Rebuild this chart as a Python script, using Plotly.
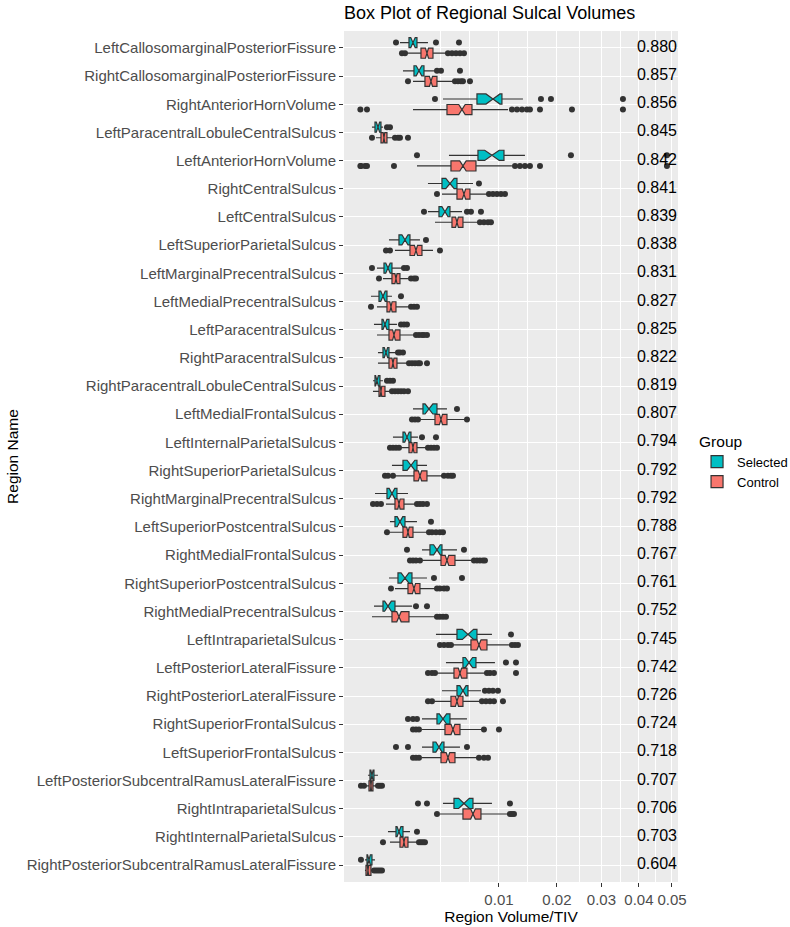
import numpy as np
import plotly.graph_objects as go

regions = [
    "LeftCallosomarginalPosteriorFissure", "RightCallosomarginalPosteriorFissure",
    "RightAnteriorHornVolume", "LeftParacentralLobuleCentralSulcus",
    "LeftAnteriorHornVolume", "RightCentralSulcus", "LeftCentralSulcus",
    "LeftSuperiorParietalSulcus", "LeftMarginalPrecentralSulcus",
    "LeftMedialPrecentralSulcus", "LeftParacentralSulcus", "RightParacentralSulcus",
    "RightParacentralLobuleCentralSulcus", "LeftMedialFrontalSulcus",
    "LeftInternalParietalSulcus", "RightSuperiorParietalSulcus",
    "RightMarginalPrecentralSulcus", "LeftSuperiorPostcentralSulcus",
    "RightMedialFrontalSulcus", "RightSuperiorPostcentralSulcus",
    "RightMedialPrecentralSulcus", "LeftIntraparietalSulcus",
    "LeftPosteriorLateralFissure", "RightPosteriorLateralFissure",
    "RightSuperiorFrontalSulcus", "LeftSuperiorFrontalSulcus",
    "LeftPosteriorSubcentralRamusLateralFissure", "RightIntraparietalSulcus",
    "RightInternalParietalSulcus", "RightPosteriorSubcentralRamusLateralFissure",
]

correlations = [0.880, 0.857, 0.856, 0.845, 0.842, 0.841, 0.839, 0.838, 0.831, 0.827,
                0.825, 0.822, 0.819, 0.807, 0.794, 0.792, 0.792, 0.788, 0.767, 0.761,
                0.752, 0.745, 0.742, 0.726, 0.724, 0.718, 0.707, 0.706, 0.703, 0.604]

# Selected group: lower whisker, Q1, median, Q3, upper whisker
sel_low = [.000858, .000988, .0036, .0000862, .004133, .002429, .002429, .0004592, .0001653, .0000735,
           .0001148, .0001842, .0001, .001488, .0005898, .0005556, .0001306, .0004903, .002025, .0004592,
           .0001148, .003025, .003862, .003515, .002025, .002025, .0000413, .0036, .0004291, .0000184]
sel_q1 = [.001276, .001543, .007104, .0001306, .007225, .003515, .003265, .0008163, .0003189, .0002041,
          .0002699, .0002939, .0001306, .00209, .000988, .000988, .0004, .0006612, .002572, .000776,
          .0002939, .0049, .005518, .0049, .003104, .002794, .0000617, .004605, .0006985, .0000327]
sel_med = [.001488, .001837, .009161, .0001842, .009025, .004225, .003773, .00108, .0004291, .0002939,
           .0003449, .0003719, .0001653, .0025, .001176, .00138, .0005556, .0008577, .003104, .00108,
           .0004291, .006062, .006173, .005518, .0036, .003265, .0000862, .005625, .0008163, .000051]
sel_q3 = [.001716, .002156, .01043, .0002469, .01073, .0049, .004225, .001327, .0005556, .0004,
          .0004592, .0004592, .000225, .003104, .00138, .001716, .0007367, .00108, .003515, .001433,
          .0006612, .007104, .006984, .006062, .004225, .003686, .0001148, .006631, .000988, .0000862]
sel_high = [.002429, .00287, .01372, .0002939, .01406, .006631, .005413, .001898, .000943, .0005556,
            .0007367, .0007367, .0002939, .003951, .001776, .002359, .001225, .001716, .0049, .002359,
            .001433, .009025, .009437, .007594, .005951, .005205, .0001842, .009025, .001327, .0001306]
sel_outliers = [
    [.000699, .003025, .005102], [.003104, .003431, .005205], [.002947, .0169, .01881, .03556],
    [.0004, .0004903], [.001716, .02293, .0484], [.007347], [.002156, .005951, .0064, .007594],
    [.00229], [.0000862, .001033, .001176], [.0009], [.0009, .001033, .001176],
    [.000776, .0008577, .000988], [.0004, .0004903, .0005898], [.0049], [.002025, .003025],
    [], [], [.002645], [.001176, .005625], [.00287, .005413], [.001658, .002359], [.01179],
    [.01102, .01258], [.0081, .008622, .009161, .009858], [.001225, .001488, .001716],
    [.0006985, .001225, .005951], [], [.001776, .002359, .01163], [.001716], [.000002],
]

# Control group
ctl_low = [.001176, .001488, .001488, .0001474, .001716, .003515, .002947, .0006612, .0002939, .0001653,
           .0001653, .0001842, .0001, .001898, .0008577, .0006612, .0003719, .0004903, .002025, .0006612,
           .0000862, .004413, .003104, .002947, .002025, .002025, .000025, .003347, .0004903, .0000184]
ctl_q1 = [.001961, .002222, .003951, .0002469, .004318, .0049, .004413, .001327, .0005556, .0004,
          .0004592, .0004592, .0002041, .002947, .001276, .001543, .0006612, .000988, .003431, .001225,
          .0005556, .0064, .004605, .004318, .003773, .003431, .000051, .005518, .0008577, .000025]
ctl_med = [.002359, .002645, .005413, .0003189, .005518, .005625, .0049, .001658, .0006985, .0005224,
           .000625, .0005898, .0002469, .003431, .001488, .001898, .0008163, .001225, .003951, .001543,
           .0008163, .007347, .005205, .0049, .004508, .004041, .0000735, .006631, .001033, .0000413]
ctl_q3 = [.002794, .003104, .006515, .0004, .006984, .006286, .005518, .002025, .0008577, .0006985,
          .0008577, .0007367, .0003449, .003951, .001716, .002359, .001033, .001488, .004702, .001898,
          .001276, .008359, .005951, .005518, .005205, .004702, .0001, .007594, .001225, .0000735]
ctl_high = [.003951, .004508, .01133, .0005898, .01194, .008359, .007225, .002794, .001225, .001225,
            .0016, .001225, .0004903, .005841, .00229, .003515, .0016, .002359, .006631, .002947,
            .002947, .01148, .0081, .00747, .007719, .007104, .0001474, .01133, .001716, .0000862]
ctl_outliers = [
    [.000943, .00108, .004041, .004413, .004801, .005205, .005625],
    [.001225, .004702, .005001, .005308, .005518, .006286],
    [.000001, .0000327, .01194, .01274, .01356, .0144, .01492, .01672, .02315, .03556],
    [.0000862, .0006612, .000776, .0008577, .001225],
    [.000001, .000002, .0000184, .0000327, .000625, .01242, .01322, .01406, .01492, .01672, .0484],
    [.003104, .008622, .009161, .009716, .01029, .01088],
    [.00747, .007972, .008491, .00889],
    [.0003719, .0004903, .003347],
    [.0002041, .00138, .001543, .001658],
    [.0000735, .00138, .001543, .001716],
    [.001658, .001837, .002025, .002156, .002359],
    [.001276, .001433, .0016, .001776, .001898, .002359],
    [.0005556, .0006612, .000776, .0009, .001033, .001225],
    [.001433, .0016, .001776, .005951],
    [.0004903, .0005898, .0006985, .0008163, .002429, .002645, .00287, .003104],
    [.0003449, .0004291, .0005898, .003686, .004041, .004318, .004508],
    [.0001, .0001653, .0002469, .001716, .001898, .00209, .002359],
    [.0004, .0025, .002719, .003025, .003347, .0036],
    [.001327, .001488, .001658, .001898, .006747, .007104, .00747, .007845, .0081],
    [.0005224, .003104, .003347, .003686, .003951],
    [.003104, .003347, .0036, .003862],
    [.003347, .003686, .004041, .004318, .01194, .01242, .0129],
    [.002429, .002719, .002947, .008359, .008756, .009298, .01258],
    [.002429, .002719, .007719, .008229, .008756, .009298, .01058],
    [.001488, .001658, .001837, .007972, .01],
    [.001488, .001658, .001837, .007347, .007972, .008491],
    [.000002, .0000128, .0001842, .000225, .0002699],
    [.003104, .01163, .01194, .01226],
    [.0002939, .001837, .001961, .00209, .002222],
    [.0001148, .0001474, .0001842, .000225, .0002699],
]

n_selected = 32
n_control = 150

x_ticks = [0.01, 0.02, 0.03, 0.04, 0.05]
x_tick_labels = ["0.01", "0.02", "0.03", "0.04", "0.05"]

# ---- styling / geometry ----
SEL_COLOR = "#00BFC4"
CTL_COLOR = "#F8766D"
EDGE = "#333333"
DODGE = 0.1875
BOX_W = 0.36
LABEL_X = 0.0453  # position of the correlation text (data units)
FONT = "Liberation Sans, Arial, Helvetica, sans-serif"

sq = np.sqrt  # sqrt-transformed x scale
idx = np.arange(len(regions))

fig = go.Figure()


def add_group(name, color, low, q1, med, q3, high, outliers, n, offset):
    pos = (idx + offset).tolist()
    q1s, q3s = sq(np.array(q1)), sq(np.array(q3))
    notch = 1.58 * (q3s - q1s) / np.sqrt(n)
    fig.add_trace(go.Box(
        name=name, orientation="h", y=pos,
        q1=q1s, median=sq(np.array(med)), q3=q3s,
        lowerfence=sq(np.array(low)), upperfence=sq(np.array(high)),
        notchspan=notch, notched=True, notchwidth=0.5, whiskerwidth=0,
        width=BOX_W, fillcolor=color, line=dict(color=EDGE, width=1.2),
        boxpoints=False, hoverinfo="skip", legendgroup=name,
    ))
    ox, oy = [], []
    for p, lst in zip(pos, outliers):
        for v in lst:
            ox.append(float(sq(v)))
            oy.append(p)
    fig.add_trace(go.Scatter(
        x=ox, y=oy, mode="markers", showlegend=False, legendgroup=name,
        marker=dict(color=EDGE, size=6), cliponaxis=False, hoverinfo="skip",
    ))


add_group("Selected", SEL_COLOR, sel_low, sel_q1, sel_med, sel_q3, sel_high,
          sel_outliers, n_selected, -DODGE)
add_group("Control", CTL_COLOR, ctl_low, ctl_q1, ctl_med, ctl_q3, ctl_high,
          ctl_outliers, n_control, DODGE)

fig.add_trace(go.Scatter(
    x=[sq(LABEL_X)] * len(regions), y=idx.tolist(),
    text=[f"{c:.3f}" for c in correlations], mode="text",
    textfont=dict(size=16, color="black", family=FONT),
    showlegend=False, cliponaxis=False, hoverinfo="skip",
))

# minor breaks like ggplot's regular_minor_breaks in transformed space
b = sq(np.array(x_ticks))
bd = np.diff(b)
ext = np.concatenate([[b[0] - bd[0]], b])
minor_vals = np.concatenate([[ext[0]], (ext[:-1] + ext[1:]) / 2]).tolist()

fig.update_layout(
    width=790, height=927,
    margin=dict(l=344, r=112, t=31, b=45, autoexpand=False),
    paper_bgcolor="white", plot_bgcolor="#EBEBEB",
    font=dict(family=FONT, color="black"),
    boxmode="overlay",
    title=dict(text="Box Plot of Regional Sulcal Volumes", x=0, xref="paper",
               xanchor="left", y=1 - 13 / 927, yref="container", yanchor="middle",
               font=dict(size=18, color="black", family=FONT)),
    xaxis=dict(
        range=[-0.0107, 0.2279], tickvals=b.tolist(), ticktext=x_tick_labels,
        showgrid=True, gridcolor="white", gridwidth=1.1, zeroline=False,
        ticks="outside", ticklen=4, tickcolor=EDGE, tickwidth=1,
        tickfont=dict(size=15, color="#4D4D4D"),
        minor=dict(tickvals=minor_vals, showgrid=True, gridcolor="white",
                   gridwidth=0.5, ticks=""),
        title=dict(text="Region Volume/TIV", font=dict(size=15.5, color="black"), standoff=2),
        showline=False, automargin=False,
    ),
    yaxis=dict(
        range=[len(regions) - 0.4, -0.6], tickvals=idx.tolist(), ticktext=regions,
        showgrid=True, gridcolor="white", gridwidth=1.1, zeroline=False,
        ticks="outside", ticklen=4, tickcolor=EDGE, tickwidth=1,
        tickfont=dict(size=15, color="#4D4D4D"),
        title=dict(text="Region Name", font=dict(size=15.5, color="black"), standoff=4),
        showline=False, automargin=False,
    ),
    legend=dict(
        title=dict(text="Group", font=dict(size=15.5, color="black")),
        x=1.057, xanchor="left", y=0.494, yanchor="middle",
        font=dict(size=13, color="black"), bgcolor="rgba(0,0,0,0)",
        tracegroupgap=0, itemwidth=30,
    ),
)

fig.write_html("out.html", config={"displayModeBar": False},
               post_script="document.body.style.margin='0px';")
